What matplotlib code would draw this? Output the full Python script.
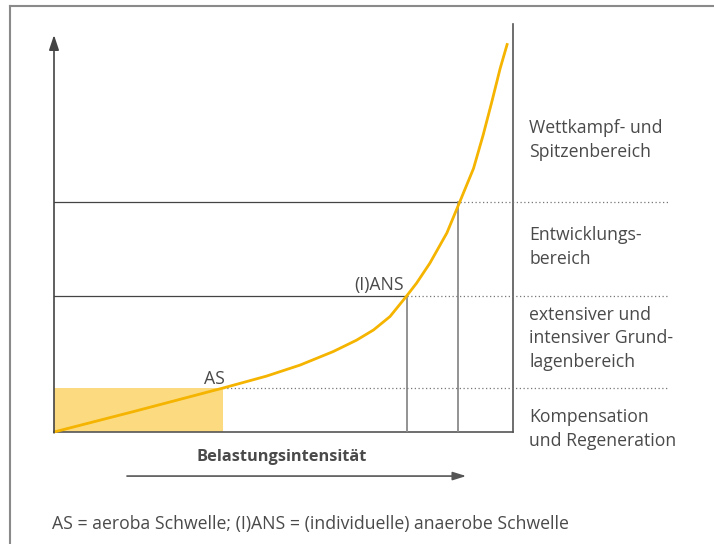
import matplotlib.pyplot as plt

intensitaet = [0, 17.3, 36.9, 46.3, 53.6, 60.8, 65.9, 69.6, 73.2, 76.8,
               79.0, 81.9, 85.6, 88.4, 91.4, 93.5, 95.4, 97.2, 98.8]
belastung = [0, 5.0, 10.8, 13.7, 16.4, 19.7, 22.5, 25.0, 28.3, 33.3,
             36.5, 41.4, 48.8, 56.4, 64.6, 72.8, 81.0, 89.1, 95.3]

# Schwellen
as_x, as_y = 36.9, 10.8
ans_x, ans_y = 76.8, 33.3
ew_x, ew_y = 88.4, 56.4

bereiche = ['Wettkampf- und\nSpitzenbereich',
            'Entwicklungs-\nbereich',
            'extensiver und\nintensiver Grund-\nlagenbereich',
            'Kompensation\nund Regeneration']
bereich_y = [71.6, 45.3, 23.0, 0.7]

plt.rcParams['font.family'] = ['Open Sans', 'DejaVu Sans']
text_col = '#4a4a4a'
line_col = '#555555'
gelb = '#f5b400'
fs = 12.7

fig = plt.figure(figsize=(7.14, 5.44), dpi=100)
W, H = 714, 544
ax = fig.add_axes([54 / W, (H - 432) / H, 459 / W, 408 / H])
ax.set_xlim(0, 100)
ax.set_ylim(0, 100)
ax.axis('off')

# Rahmen
fig.add_artist(plt.Line2D([10 / W, 1], [1 - 6 / H, 1 - 6 / H], color='#8a8a8a', lw=1.5))
fig.add_artist(plt.Line2D([10 / W, 10 / W], [0, 1 - 6 / H], color='#8a8a8a', lw=1.5))

# Achsen
ax.plot([0, 100], [0, 0], color=line_col, lw=1.2, clip_on=False)
ax.plot([100, 100], [0, 100], color=line_col, lw=1.2, clip_on=False)
ax.annotate('', xy=(0, 97.3), xytext=(0, -0.2),
            arrowprops=dict(arrowstyle='-|>,head_length=0.9,head_width=0.3',
                            color='#444444', lw=1.2, shrinkA=0, shrinkB=0),
            annotation_clip=False)

# gefuellter Bereich bis AS
ax.fill_between([0, as_x], 0, as_y, color='#fcda80', lw=0)

# Schwellenlinien
ax.plot([0, ans_x], [ans_y, ans_y], color='#444444', lw=0.9)
ax.plot([0, ew_x], [ew_y, ew_y], color='#444444', lw=0.9)
ax.plot([ans_x, ans_x], [0, ans_y], color='#8a8a8a', lw=1.3)
ax.plot([ew_x - 0.3, ew_x - 0.3], [0, ew_y], color='#8a8a8a', lw=1.3)
for x0, y0 in [(as_x, as_y), (ans_x, ans_y), (ew_x, ew_y)]:
    ax.plot([x0, 133.8], [y0, y0], color='#777777', lw=0.9, ls=(0, (1, 2)), clip_on=False)

# Kurve
ax.plot(intensitaet, belastung, color=gelb, lw=2, clip_on=False,
        solid_capstyle='butt', solid_joinstyle='round')

ax.text(34.9, 11.8, 'AS', ha='center', va='baseline', fontsize=fs, color=text_col)
ax.text(76.2, 34.8, '(I)ANS', ha='right', va='baseline', fontsize=fs, color=text_col)

for lab, yy in zip(bereiche, bereich_y):
    ax.text(103.5, yy, lab, ha='left', va='center', fontsize=fs, color=text_col,
            linespacing=1.4, clip_on=False)

ax.text(49.5, -6.1, 'Belastungsintensität', ha='center', va='center', fontsize=11.8,
        fontweight='bold', color=text_col)
ax.annotate('', xy=(89.8, -10.8), xytext=(15.9, -10.8),
            arrowprops=dict(arrowstyle='-|>,head_length=0.8,head_width=0.25',
                            color='#555555', lw=1.2, shrinkA=0, shrinkB=0),
            annotation_clip=False)

ax.text(-0.4, -22.6, 'AS = aeroba Schwelle; (I)ANS = (individuelle) anaerobe Schwelle',
        ha='left', va='center', fontsize=fs, color=text_col)

fig.savefig('out.png', dpi=100)
